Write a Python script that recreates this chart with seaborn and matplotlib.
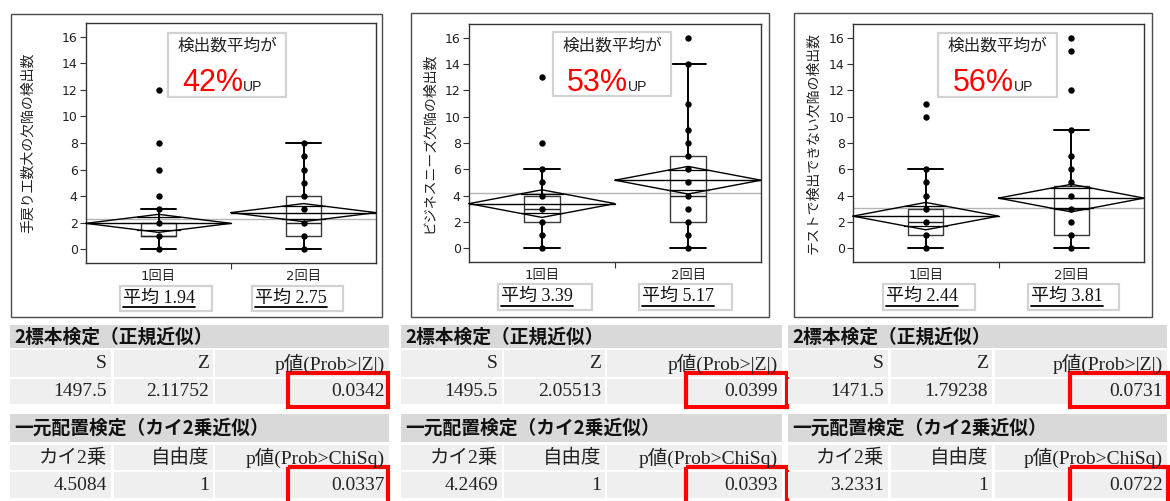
import numpy as np
import pandas as pd
import matplotlib
matplotlib.use("Agg")
import matplotlib.pyplot as plt
from matplotlib.patches import Rectangle
import seaborn as sns

# ---------------- data ----------------
groups = ["1回目", "2回目"]
ylabels = ["手戻り工数大の欠陥の検出数", "ビジネスニーズ欠陥の検出数", "テストで検出できない欠陥の検出数"]
pct_up = [42, 53, 56]

# individual (distinct) points per group
p1_g1 = [0, 1, 2, 3, 4, 6, 8, 12]
p1_g2 = [0, 1, 2, 3, 4, 5, 6, 7, 8]
p2_g1 = [0, 1, 2, 3, 4, 5, 6, 8, 13]
p2_g2 = [0, 1, 2, 3, 4, 5, 6, 7, 8, 9, 11, 14, 16]
p3_g1 = [0, 1, 2, 3, 4, 5, 6, 10, 11]
p3_g2 = [0, 1, 2, 3, 4, 5, 6, 7, 9, 12, 15, 16]

# box statistics per panel: [group1, group2]
q1 = [[1, 1], [2, 2], [1, 1]]
med = [[1, 2], [3, 4], [2, 3]]
q3 = [[2, 4], [4, 7], [3, 4.75]]
whis_lo = [[0, 0], [0, 0], [0, 0]]
whis_hi = [[3, 8], [6, 14], [6, 9]]
means = [[1.94, 2.75], [3.39, 5.17], [2.44, 3.81]]
ci_half = [[0.68, 0.68], [1.05, 1.05], [1.04, 1.05]]
grand_mean = [2.27, 4.23, 3.08]

# test tables
s_stat = ["1497.5", "1495.5", "1471.5"]
z_stat = ["2.11752", "2.05513", "1.79238"]
p_z = ["0.0342", "0.0399", "0.0731"]
chi2 = ["4.5084", "4.2469", "3.2331"]
dof = ["1", "1", "1"]
p_chi = ["0.0337", "0.0393", "0.0722"]

points = [(p1_g1, p1_g2), (p2_g1, p2_g2), (p3_g1, p3_g2)]

# ---------------- style ----------------
sns.set_theme(style="white")
plt.rcParams["font.family"] = ["DejaVu Sans", "Noto Sans CJK JP"]
CJK = ["Noto Sans CJK JP", "DejaVu Sans"]
SERIF = ["Liberation Serif", "Noto Sans CJK JP"]

W, H = 1170, 501
fig = plt.figure(figsize=(W / 100, H / 100), dpi=100)
ov = fig.add_axes([0, 0, 1, 1], zorder=10)
ov.set_xlim(0, W)
ov.set_ylim(H, 0)
ov.axis("off")


def px_axes(x0, y0, x1, y1):
    return fig.add_axes([x0 / W, 1 - y1 / H, (x1 - x0) / W, (y1 - y0) / H], zorder=2)


def rect(x0, y0, x1, y1, **kw):
    ov.add_patch(Rectangle((x0, y0), x1 - x0, y1 - y0, **kw))


# layout (pixels)
frames = [(11, 14, 382, 317), (411, 13, 769, 317), (794, 13, 1152, 317)]
axes_px = [(86, 23, 376, 263), (469, 24, 761, 262), (853, 24, 1144, 262)]
ylab_x = [-0.176, -0.113, -0.113]
note_box = [(168, 33, 286, 97), (553, 32, 671, 96), (938, 33, 1057, 97)]
mean_boxes = [
    [(120, 286, 212, 311), (252, 286, 343, 311)],
    [(498, 284, 592, 310), (639, 284, 732, 310)],
    [(883, 284, 975, 310), (1028, 284, 1119, 310)],
]
tables = [
    dict(L=10, R=389, cols=[(10, 111), (114, 213), (215, 389)], red=(288, 388)),
    dict(L=401, R=782, cols=[(401, 502), (504, 605), (607, 782)], red=(686, 787)),
    dict(L=788, R=1167, cols=[(788, 888), (891, 992), (995, 1167)], red=(1070, 1168)),
]

mean_texts = []

for k in range(3):
    # outer frame
    fx0, fy0, fx1, fy1 = frames[k]
    rect(fx0, fy0, fx1, fy1, fill=False, ec="#4a4a4a", lw=1.0)

    ax = px_axes(*axes_px[k])
    g1, g2 = points[k]
    df = pd.DataFrame({"group": [groups[0]] * len(g1) + [groups[1]] * len(g2),
                       "value": g1 + g2})
    sns.stripplot(data=df, x="group", y="value", order=groups, jitter=False,
                  color="black", size=4.6, linewidth=0, ax=ax, zorder=5)

    # grand mean line
    ax.axhline(grand_mean[k], color="#b4b4b4", lw=1.0, zorder=1)

    # box plots from stats
    stats = []
    for i in range(2):
        stats.append(dict(med=med[k][i], q1=q1[k][i], q3=q3[k][i],
                          whislo=whis_lo[k][i], whishi=whis_hi[k][i], fliers=[]))
    ax.bxp(stats, positions=[0, 1], widths=0.24, capwidths=0.24,
           showfliers=False, manage_ticks=False,
           boxprops=dict(color="#3a3a3a", lw=1.0),
           medianprops=dict(color="#222222", lw=1.0),
           whiskerprops=dict(color="black", lw=1.4),
           capprops=dict(color="black", lw=1.4), zorder=3)

    # mean diamonds
    for i in range(2):
        m, c = means[k][i], ci_half[k][i]
        ax.plot([i - 0.5, i, i + 0.5, i, i - 0.5], [m, m + c, m, m - c, m],
                color="black", lw=1.0, zorder=4, clip_on=False)
        ax.plot([i - 0.5, i + 0.5], [m, m], color="black", lw=1.0, zorder=4)
        d = c / np.sqrt(2)
        hw = 0.5 * (1 - 1 / np.sqrt(2))
        for s in (1, -1):
            ax.plot([i - hw, i + hw], [m + s * d, m + s * d], color="black",
                    lw=0.9, zorder=4)

    ax.set_xlim(-0.5, 1.5)
    ax.set_ylim(-1.05, 17.05)
    ax.set_yticks(range(0, 17, 2))
    ax.set_xticks([0, 1])
    ax.set_xticklabels(groups)
    ax.set_xticks([0.5], minor=True)
    ax.set_xlabel("")
    ax.set_ylabel(ylabels[k], fontsize=10, family=CJK, color="#222222")
    ax.yaxis.set_label_coords(ylab_x[k], 0.5)
    ax.tick_params(axis="x", which="major", length=0, pad=5, labelsize=9.5,
                   labelcolor="#222222", bottom=False)
    ax.tick_params(axis="x", which="minor", length=4.5, width=0.8,
                   color="#333333", bottom=True, direction="out")
    ax.tick_params(axis="y", length=4, width=0.8, pad=2, labelsize=9,
                   left=True, color="#333333", labelcolor="#222222", direction="out")
    for sp in ax.spines.values():
        sp.set_visible(True)
        sp.set_color("#333333")
        sp.set_linewidth(1.0)
    ax.set_facecolor("white")

    # annotation box
    bx0, by0, bx1, by1 = note_box[k]
    rect(bx0, by0, bx1, by1, fc="white", ec="#d2d2d2", lw=1.6)
    cx = (bx0 + bx1) / 2
    ov.text(cx, 46, "検出数平均が", ha="center", va="center", fontsize=12,
            family=CJK, color="#222222")
    ov.text(cx + 16, 91, f"{pct_up[k]}%", ha="right", va="baseline", fontsize=22,
            color="#ff0000", family=["Liberation Sans Narrow", "Liberation Sans"])
    ov.text(cx + 16, 91, "UP", ha="left", va="baseline", fontsize=10,
            color="#222222", family=["Liberation Sans", "DejaVu Sans"])

    # mean boxes
    for i in range(2):
        x0, y0, x1, y1 = mean_boxes[k][i]
        rect(x0, y0, x1, y1, fc="white", ec="#d2d2d2", lw=1.6)
        t = ov.text(x0 + 3, (y0 + y1) / 2 - 0.5, f"平均 {means[k][i]:.2f}",
                    ha="left", va="center", fontsize=13, family=SERIF, color="#111111")
        mean_texts.append((t, y1 - 4.5))

    # tables
    tb = tables[k]
    L, R = tb["L"], tb["R"]
    rows = [(350, 377), (379, 404), (445, 470), (472, 498)]
    for (hy0, hy1), title in [((325, 348), "2標本検定（正規近似）"),
                               ((414, 442), "一元配置検定（カイ2乗近似）")]:
        rect(L, hy0, R, hy1, fc="#d9d9d9", ec="none")
        ov.text(L + 4, (hy0 + hy1) / 2 + 0.5, title, ha="left", va="center",
                fontsize=13.5, fontweight="bold", family=CJK, color="#111111")
    cells = [["S", "Z", "p値(Prob>|Z|)"],
             [s_stat[k], z_stat[k], p_z[k]],
             ["カイ2乗", "自由度", "p値(Prob>ChiSq)"],
             [chi2[k], dof[k], p_chi[k]]]
    for r, (ry0, ry1) in enumerate(rows):
        for c, (cx0, cx1) in enumerate(tb["cols"]):
            rect(cx0, ry0, cx1, ry1, fc="#efefef", ec="none")
            ov.text(cx1 - 4, (ry0 + ry1) / 2, cells[r][c], ha="right", va="center",
                    fontsize=14, family=SERIF, color="#222222")
    rx0, rx1 = tb["red"]
    rect(rx0, 373, rx1, 407, fill=False, ec="#ff0000", lw=3.0)
    rect(rx0, 467, rx1, 503, fill=False, ec="#ff0000", lw=3.0, clip_on=False)

# underline the mean labels
fig.canvas.draw()
inv = ov.transData.inverted()
for t, uy in mean_texts:
    bb = t.get_window_extent()
    xa, _ = inv.transform((bb.x0, bb.y0))
    xb, _ = inv.transform((bb.x1, bb.y0))
    ov.plot([xa, xb], [uy, uy], color="black", lw=1.3)

fig.savefig("out.png", dpi=100)
